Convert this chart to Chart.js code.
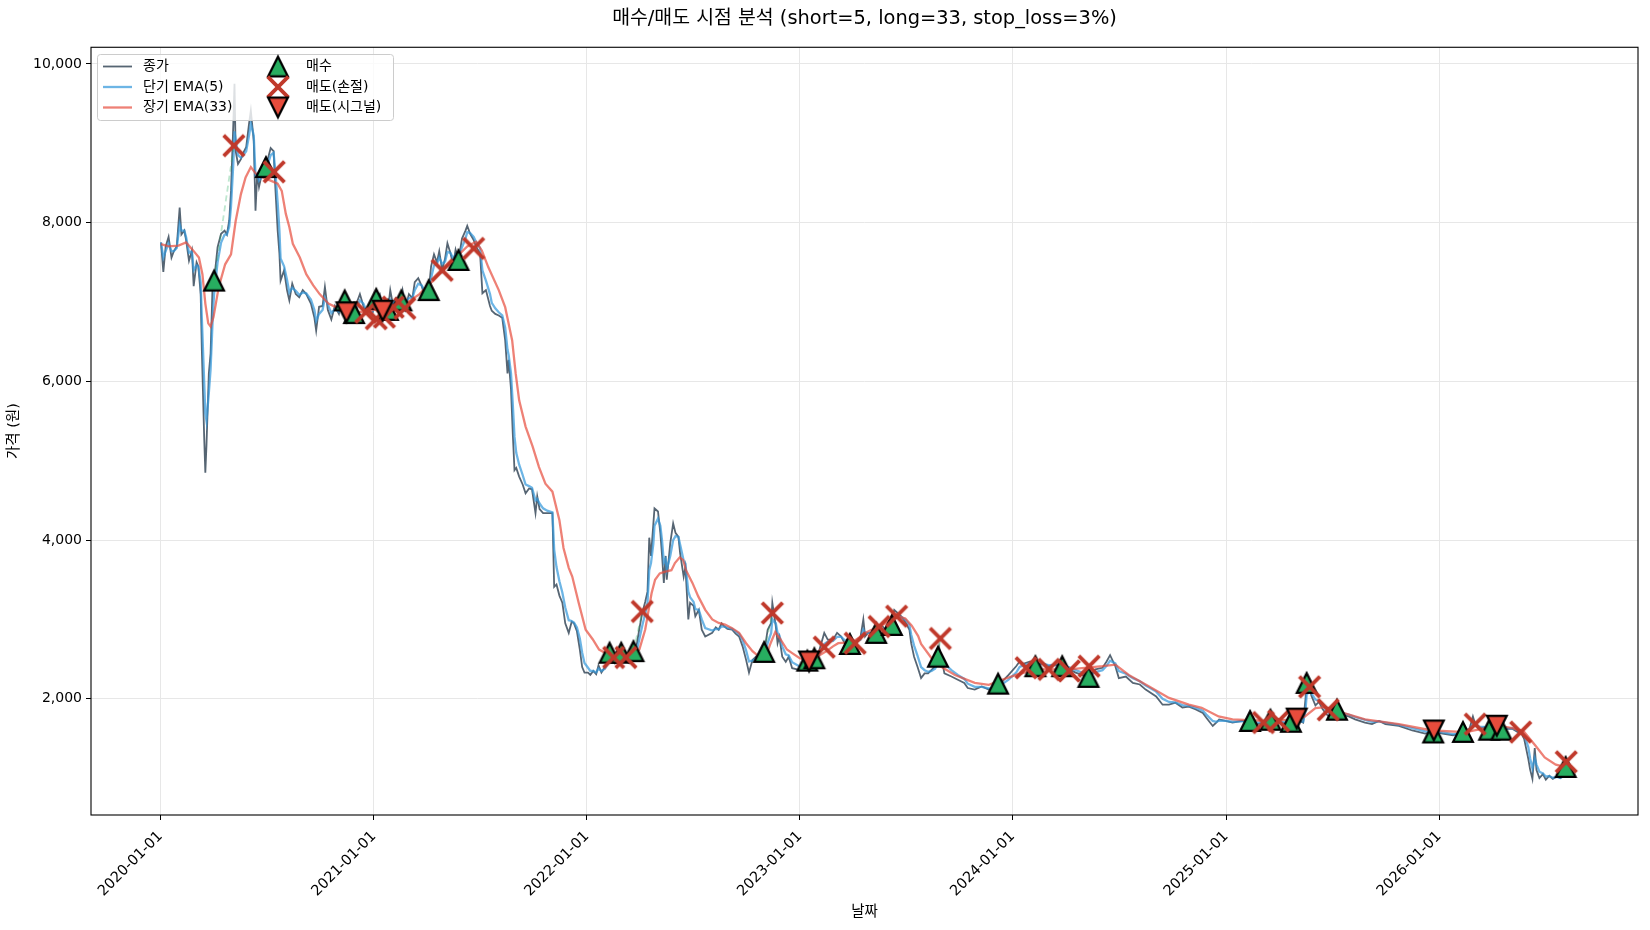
<!DOCTYPE html>
<html><head><meta charset="utf-8">
<script src="https://cdn.jsdelivr.net/npm/chart.js@4.4.1/dist/chart.umd.min.js"></script>
<style>
html,body{margin:0;padding:0;background:#fff;}
#wrap{width:1650px;height:930px;position:relative;}
</style></head><body>
<div id="wrap"><canvas id="c"></canvas></div>
<script>
const FONT = '"DejaVu Sans", "Noto Sans CJK KR", sans-serif';
const titleText = '매수/매도 시점 분석 (short=5, long=33, stop_loss=3%)';
const xAxisTitle = '날짜';
const yAxisTitle = '가격 (원)';
const xTickYears = [2020, 2021, 2022, 2023, 2024, 2025, 2026];
const yTickValues = [2000, 4000, 6000, 8000, 10000];
const legendLabels = ['종가', '단기 EMA(5)', '장기 EMA(33)', '매수', '매도(손절)', '매도(시그널)'];

const priceDates = [
'2020-01-02','2020-01-06','2020-01-10','2020-01-15','2020-01-20','2020-01-24','2020-01-29',
'2020-02-03','2020-02-06','2020-02-11','2020-02-14','2020-02-19','2020-02-24','2020-02-27',
'2020-03-03','2020-03-06','2020-03-10','2020-03-12','2020-03-16','2020-03-18','2020-03-20','2020-03-24','2020-03-27','2020-03-31',
'2020-04-02','2020-04-08','2020-04-14','2020-04-20','2020-04-24','2020-04-28',
'2020-05-01','2020-05-05','2020-05-07','2020-05-09','2020-05-13','2020-05-18','2020-05-22','2020-05-27',
'2020-06-01','2020-06-04','2020-06-09','2020-06-12','2020-06-15','2020-06-18','2020-06-23','2020-06-30',
'2020-07-03','2020-07-08','2020-07-13','2020-07-16','2020-07-20','2020-07-23','2020-07-25','2020-07-31',
'2020-08-05','2020-08-09','2020-08-14','2020-08-20','2020-08-26',
'2020-09-01','2020-09-07','2020-09-15','2020-09-21','2020-09-24','2020-09-29',
'2020-10-05','2020-10-09','2020-10-14','2020-10-20','2020-10-26',
'2020-11-02','2020-11-06','2020-11-12','2020-11-16','2020-11-20','2020-11-25','2020-11-28',
'2020-12-03','2020-12-08','2020-12-14','2020-12-18','2020-12-23','2020-12-29',
'2021-01-05','2021-01-11','2021-01-15','2021-01-20','2021-01-25','2021-01-29',
'2021-02-03','2021-02-08','2021-02-15','2021-02-19','2021-02-24',
'2021-03-02','2021-03-08','2021-03-12','2021-03-18','2021-03-24','2021-03-30',
'2021-04-05','2021-04-09','2021-04-14','2021-04-19','2021-04-23','2021-04-28',
'2021-05-03','2021-05-07','2021-05-12','2021-05-17','2021-05-21','2021-05-26',
'2021-06-01','2021-06-07','2021-06-10','2021-06-15','2021-06-21','2021-06-25',
'2021-07-02','2021-07-06','2021-07-12','2021-07-19','2021-07-22','2021-07-28',
'2021-08-03','2021-08-09','2021-08-14','2021-08-18','2021-08-20','2021-08-24','2021-08-27','2021-08-30',
'2021-09-02','2021-09-07','2021-09-13','2021-09-18','2021-09-24','2021-09-29',
'2021-10-05','2021-10-08','2021-10-12','2021-10-18','2021-10-25',
'2021-11-03','2021-11-06','2021-11-10','2021-11-15','2021-11-20','2021-11-25',
'2021-12-01','2021-12-06','2021-12-10','2021-12-15','2021-12-20','2021-12-24','2021-12-28',
'2022-01-03','2022-01-07','2022-01-12','2022-01-17','2022-01-21','2022-01-26',
'2022-02-01','2022-02-09','2022-02-14','2022-02-18','2022-02-24',
'2022-03-01','2022-03-08','2022-03-14','2022-03-22','2022-03-28',
'2022-04-01','2022-04-06','2022-04-11','2022-04-15','2022-04-18','2022-04-21','2022-04-25','2022-04-27',
'2022-05-03','2022-05-07','2022-05-10','2022-05-13','2022-05-16','2022-05-18','2022-05-24','2022-05-29',
'2022-06-02','2022-06-07','2022-06-10','2022-06-16','2022-06-19','2022-06-24','2022-06-27',
'2022-07-03','2022-07-06','2022-07-12','2022-07-17','2022-07-23',
'2022-08-04','2022-08-10','2022-08-15','2022-08-20','2022-08-25','2022-08-30',
'2022-09-07','2022-09-13','2022-09-19','2022-09-25',
'2022-10-01','2022-10-06','2022-10-12','2022-10-18','2022-10-25',
'2022-11-01','2022-11-07','2022-11-13','2022-11-15','2022-11-21','2022-11-24','2022-11-27',
'2022-12-02','2022-12-08','2022-12-13','2022-12-19','2022-12-31',
'2023-01-06','2023-01-12','2023-01-17','2023-01-22',
'2023-02-03','2023-02-12','2023-02-18','2023-02-27',
'2023-03-06','2023-03-13','2023-03-19','2023-03-26',
'2023-04-01','2023-04-07','2023-04-15','2023-04-20','2023-04-23','2023-04-28',
'2023-05-06','2023-05-12','2023-05-21','2023-05-28',
'2023-06-06','2023-06-12','2023-06-24',
'2023-07-02','2023-07-08','2023-07-11','2023-07-16','2023-07-22','2023-07-28',
'2023-08-03','2023-08-09','2023-08-15','2023-08-21','2023-08-26','2023-08-28',
'2023-09-06','2023-09-18','2023-09-29',
'2023-10-10','2023-10-16','2023-10-28',
'2023-11-09','2023-11-21',
'2023-12-02','2023-12-09','2023-12-14','2023-12-25',
'2024-01-07','2024-01-13','2024-01-19','2024-01-31',
'2024-02-10','2024-02-22',
'2024-03-03','2024-03-14','2024-03-26',
'2024-04-07','2024-04-18','2024-04-29',
'2024-05-11','2024-05-22',
'2024-06-03','2024-06-10','2024-06-16','2024-06-25',
'2024-07-01','2024-07-13','2024-07-25',
'2024-08-06','2024-08-16',
'2024-09-03','2024-09-14','2024-09-25',
'2024-10-06','2024-10-18','2024-10-29',
'2024-11-10','2024-11-22','2024-11-28',
'2024-12-09','2024-12-15','2024-12-20','2024-12-31',
'2025-01-12','2025-01-28',
'2025-02-12','2025-02-24',
'2025-03-06','2025-03-19',
'2025-04-01','2025-04-12','2025-04-21',
'2025-05-02','2025-05-13','2025-05-17','2025-05-19','2025-05-24','2025-05-27',
'2025-06-03','2025-06-09','2025-06-15','2025-06-20','2025-06-26',
'2025-07-07','2025-07-12','2025-07-18','2025-07-30',
'2025-08-10','2025-08-27',
'2025-09-08','2025-09-20',
'2025-10-01','2025-10-24',
'2025-11-16',
'2025-12-08','2025-12-22',
'2026-01-07','2026-01-25',
'2026-02-11','2026-02-22','2026-02-28',
'2026-03-04','2026-03-10','2026-03-19','2026-03-28',
'2026-04-10','2026-04-17',
'2026-05-07','2026-05-16','2026-05-21','2026-05-27',
'2026-06-03','2026-06-06','2026-06-10','2026-06-14','2026-06-17','2026-06-22','2026-06-28',
'2026-07-03','2026-07-09','2026-07-15','2026-07-22','2026-07-28',
'2026-08-03','2026-08-07','2026-08-13'
];

const closePrices = [
7750,7380,7700,7820,7560,7640,7700,
8190,7850,7900,7780,7520,7650,7200,
7500,7450,7100,6400,5300,4850,5200,6100,6350,7360,
7270,7690,7860,7900,7850,8030,
8400,9250,9750,8900,8740,8800,8880,8950,
9250,9410,9030,8150,8620,8450,8620,8700,
8800,8940,8900,8440,7900,7610,7270,7400,
7150,7020,7230,7100,7060,
7150,7100,6980,6800,6640,6940,
6950,7190,6900,6780,6950,
6850,7000,7020,6880,6950,6820,6860,
7000,7100,6950,6860,6900,6850,
7040,7100,6950,6850,6900,7150,
6950,7050,7020,7150,6920,
7100,7050,7250,7300,7200,7050,
7150,7450,7600,7500,7640,7400,
7550,7740,7620,7470,7660,7530,
7800,7900,7960,7860,7780,7700,
7610,7110,7150,6950,6890,6850,
6830,6800,6520,6100,6270,5900,5350,4880,
4910,4800,4700,4590,4650,4640,
4340,4550,4390,4340,4340,
4340,3410,3440,3300,3210,2950,
2830,2970,2950,2850,2620,2400,2330,
2330,2300,2350,2310,2420,2330,
2400,2580,2500,2450,2550,
2580,2480,2450,2600,2700,
2880,3080,3220,3350,4030,3800,4200,4400,
4360,4090,3800,3460,3800,3500,3960,4210,
4090,4040,3830,3540,3660,3000,3210,
3170,3040,3120,2870,2785,
2830,2900,2870,2950,2910,2880,
2870,2820,2785,2660,
2490,2330,2490,2530,2500,
2580,2870,2955,3210,2910,2700,2780,
2530,2465,2530,2385,2365,
2380,2480,2470,2520,
2600,2830,2745,2745,
2830,2785,2700,2720,
2745,2700,2770,3000,2785,2830,
2830,2826,2930,2870,
2960,3120,3040,
2955,2870,2700,2530,2400,2260,
2320,2320,2365,2410,2530,2650,
2320,2280,2240,
2200,2135,2115,
2155,2115,
2130,2175,2215,2300,
2410,2470,2440,2470,
2420,2450,
2410,2430,2410,
2370,2330,2300,
2280,2370,
2390,2470,2550,2410,
2260,2280,2200,
2180,2115,
2030,1925,1925,
1950,1890,1900,
1865,1820,1760,
1657,1700,1740,1720,
1700,1720,
1720,1680,
1700,1740,
1720,1680,1700,
1740,1700,2000,2250,2150,2040,
1917,1960,1875,1820,1777,
1840,1860,1800,1777,
1740,1700,
1680,1720,
1680,1657,
1600,
1560,1590,
1560,1540,
1580,1620,1777,
1680,1620,1640,1620,
1663,1620,
1620,1580,1580,1490,
1240,1110,990,1380,1100,1000,1050,
980,1030,990,1020,1000,
1040,1140,1073
];

const shortEma = [
7750,7560,7640,7740,7640,7640,7680,
7980,7900,7900,7820,7620,7640,7400,
7460,7450,7250,6800,6000,5600,5500,5850,6150,6850,
7100,7500,7750,7850,7850,7950,
8200,8750,9150,9050,8850,8820,8850,8900,
9100,9250,9100,8600,8610,8530,8580,8650,
8730,8850,8880,8650,8250,7900,7550,7450,
7280,7120,7180,7140,7090,
7120,7110,7030,6900,6760,6850,
6900,7050,6970,6860,6910,
6880,6950,6990,6930,6940,6870,6860,
6930,7020,6980,6910,6900,6870,
6960,7050,6990,6910,6900,7030,
6990,7020,7020,7090,7000,
7050,7050,7150,7230,7210,7120,
7140,7300,7460,7480,7560,7480,
7510,7630,7620,7550,7600,7570,
7690,7800,7880,7870,7820,7760,
7680,7400,7270,7100,6990,6920,
6870,6830,6680,6400,6330,6100,5720,5300,
5100,4950,4820,4700,4680,4660,
4500,4520,4460,4400,4370,
4350,3880,3660,3480,3340,3150,
2990,2980,2960,2900,2760,2580,2450,
2390,2350,2350,2330,2380,2350,
2380,2480,2490,2470,2510,
2550,2510,2480,2540,2620,
2750,2920,3070,3210,3620,3710,3950,4180,
4270,4180,3990,3720,3760,3630,3800,4000,
4050,4040,3940,3740,3700,3350,3280,
3220,3130,3120,3000,2890,
2860,2880,2875,2910,2910,2895,
2880,2850,2815,2740,
2610,2470,2480,2505,2500,
2540,2700,2830,3000,2950,2830,2800,
2660,2560,2545,2460,2410,
2395,2440,2455,2490,
2545,2690,2720,2730,
2780,2780,2740,2730,
2740,2720,2745,2870,2830,2830,
2830,2828,2880,2875,
2920,3020,3030,
2990,2930,2810,2670,2540,2400,
2360,2340,2350,2380,2450,2550,
2440,2360,2300,
2250,2190,2150,
2150,2130,
2130,2150,2185,2240,
2330,2400,2420,2445,
2430,2440,
2425,2428,2420,
2395,2360,2330,
2300,2335,
2360,2415,2480,2445,
2350,2315,2260,
2220,2165,
2090,2000,1960,
1955,1920,1910,
1885,1850,1800,
1720,1710,1725,1722,
1710,1715,
1718,1700,
1700,1720,
1720,1700,1700,
1720,1710,1850,2050,2100,2070,
1990,1975,1925,1870,1820,
1830,1845,1820,1800,
1770,1735,
1710,1715,
1700,1670,
1630,
1590,1590,
1575,1555,
1565,1595,1690,
1685,1650,1645,1630,
1650,1635,
1625,1600,1590,1540,
1390,1250,1120,1250,1170,1080,1060,
1020,1025,1005,1015,1005,
1025,1080,1075
];

const longEmaDates = [
'2020-01-02','2020-01-15','2020-02-01','2020-02-14','2020-02-25','2020-03-07','2020-03-13','2020-03-18','2020-03-23','2020-03-27',
'2020-04-01','2020-04-10','2020-04-21','2020-05-01','2020-05-09','2020-05-18','2020-05-26','2020-06-04','2020-06-13','2020-06-24',
'2020-07-08','2020-07-20','2020-07-27','2020-08-03','2020-08-09','2020-08-15','2020-08-27','2020-09-07','2020-09-19','2020-09-30',
'2020-10-15','2020-11-01','2020-11-15','2020-12-01','2020-12-15','2021-01-01','2021-01-20','2021-02-10','2021-03-01','2021-03-20',
'2021-04-10','2021-04-30','2021-05-20','2021-06-10','2021-06-25','2021-07-05','2021-07-16','2021-08-03','2021-08-14','2021-08-20',
'2021-08-26','2021-09-01','2021-09-07','2021-09-18','2021-09-30','2021-10-11','2021-10-22','2021-11-03','2021-11-15','2021-11-22',
'2021-12-01','2021-12-07','2021-12-18','2021-12-30','2022-01-11','2022-01-22','2022-02-03','2022-02-15','2022-02-26','2022-03-07',
'2022-03-19','2022-04-01','2022-04-11','2022-04-17','2022-04-22','2022-04-28','2022-05-06','2022-05-14','2022-05-26','2022-06-01',
'2022-06-09','2022-06-15','2022-06-20','2022-07-01','2022-07-11','2022-07-23','2022-08-04','2022-08-15','2022-08-26','2022-09-07',
'2022-09-19','2022-10-01','2022-10-12','2022-10-23','2022-11-04','2022-11-12','2022-11-20','2022-11-28','2022-12-10','2022-12-19',
'2023-01-01','2023-01-12','2023-01-23','2023-02-04','2023-02-16','2023-02-27','2023-03-08','2023-03-31','2023-04-12','2023-04-23',
'2023-05-04','2023-05-15','2023-05-27','2023-06-08','2023-06-19','2023-07-01','2023-07-12','2023-07-23','2023-07-28','2023-08-21',
'2023-09-24','2023-10-28','2023-11-21','2023-12-14','2024-01-07','2024-02-10','2024-04-07','2024-06-03','2024-06-25','2024-07-18',
'2024-08-22','2024-09-25','2024-10-29','2024-11-20','2024-12-19','2025-01-12','2025-03-09','2025-05-04','2025-05-16','2025-06-03',
'2025-06-20','2025-07-12','2025-08-27','2025-10-24','2025-12-20','2026-02-16','2026-04-12','2026-05-07','2026-05-27','2026-06-15',
'2026-07-01','2026-07-20','2026-08-13'
];
const longEma = [
7730,7700,7710,7750,7660,7560,7350,6980,6730,6690,
6810,7190,7475,7600,8020,8360,8570,8700,8615,8570,
8530,8490,8400,8110,7945,7733,7560,7350,7210,7100,
6980,6920,6880,6870,6880,6900,6910,6960,7000,7100,
7250,7400,7550,7700,7760,7650,7440,7150,6935,6725,
6516,6100,5760,5430,5180,4920,4710,4610,4250,3900,
3650,3540,3210,2870,2750,2620,2570,2550,2550,2510,
2530,2620,2870,3120,3330,3500,3580,3600,3620,3710,
3780,3750,3620,3460,3290,3120,3000,2955,2935,2890,
2830,2700,2600,2530,2530,2700,2840,2760,2620,2575,
2510,2490,2510,2550,2600,2660,2700,2710,2765,2830,
2870,2890,2955,3000,3040,3010,2920,2790,2690,2450,
2300,2200,2175,2240,2300,2370,2370,2410,2430,2300,
2155,2010,1925,1886,1777,1740,1720,1740,1777,1882,
1895,1840,1740,1680,1600,1580,1660,1630,1580,1410,
1260,1170,1126
];

const buyDates = ['2020-04-02','2020-06-30','2020-11-12','2020-11-28','2021-01-05','2021-01-25','2021-02-17','2021-04-05','2021-05-26',
'2022-02-09','2022-03-01','2022-03-22','2022-11-01','2023-01-14','2023-01-26','2023-03-28','2023-05-12','2023-06-08','2023-08-26',
'2023-12-07','2024-02-09','2024-03-26','2024-05-10','2025-02-11','2025-03-18','2025-04-22','2025-05-19','2025-07-10','2025-12-22',
'2026-02-11','2026-03-28','2026-04-18','2026-08-06'];
const buyPrices = [7270,8700,7020,6860,7040,6900,7020,7150,7530,
2580,2580,2600,2590,2480,2510,2690,2830,2930,2530,
2190,2410,2410,2275,1720,1735,1710,2200,1862,1575,
1582,1610,1610,1140];

const stopDates = ['2020-05-06','2020-07-14','2020-12-18','2021-01-05','2021-01-19','2021-02-03','2021-02-23','2021-04-28','2021-06-21',
'2022-02-16','2022-03-09','2022-04-06','2022-11-15','2023-02-12','2023-04-06','2023-05-17','2023-06-16','2023-08-30',
'2024-01-24','2024-03-03','2024-04-07','2024-05-11','2025-03-06','2025-04-01','2025-05-24','2025-06-25',
'2026-03-04','2026-05-21','2026-08-07'];
const stopPrices = [8970,8640,6870,6790,6810,6935,6920,7400,7675,
2520,2520,3100,3080,2650,2700,2910,3040,2760,
2390,2370,2350,2410,1700,1720,2150,1860,
1680,1580,1205];

const signalDates = ['2020-11-15','2021-01-16','2023-01-17','2025-05-02','2025-12-23','2026-04-10'];
const signalPrices = [6870,6890,2470,1750,1600,1660];

const winEntryDates = ['2020-04-02','2022-03-22','2022-11-01','2023-08-26'];
const winEntryPrices = [7270,2600,2590,2530];
const winExitDates = ['2020-05-06','2022-04-06','2022-11-15','2023-08-30'];
const winExitPrices = [8970,3100,3080,2760];

// ---------- helpers ----------
const toT = s => Date.parse(s + 'T00:00:00Z');
const pts = (ds, vs) => ds.map((d, i) => ({x: toT(d), y: vs[i]}));
const tradeSegs = [];
winEntryDates.forEach((d, i) => {
  tradeSegs.push({x: toT(d), y: winEntryPrices[i]});
  tradeSegs.push({x: toT(winExitDates[i]), y: winExitPrices[i]});
  tradeSegs.push({x: toT(winExitDates[i]) + 86400000, y: null});
});

const COL_CLOSE = 'rgba(44,62,80,0.8)';
const COL_SHORT = 'rgba(52,152,219,0.72)';
const COL_LONG = 'rgba(231,76,60,0.7)';

function mkTri(up, fill) {
  const s = 26, c = document.createElement('canvas');
  c.width = s; c.height = s;
  const g = c.getContext('2d'), cx = 13, cy = 13, h = 9.8;
  g.beginPath();
  if (up) { g.moveTo(cx, cy - h); g.lineTo(cx - h, cy + h); g.lineTo(cx + h, cy + h); }
  else { g.moveTo(cx, cy + h); g.lineTo(cx - h, cy - h); g.lineTo(cx + h, cy - h); }
  g.closePath();
  g.fillStyle = fill; g.fill();
  g.lineWidth = 2.3; g.lineJoin = 'miter'; g.strokeStyle = '#000'; g.stroke();
  return c;
}
function mkX() {
  const s = 26, c = document.createElement('canvas');
  c.width = s; c.height = s;
  const g = c.getContext('2d'), cx = 13, cy = 13, h = 10.3;
  g.strokeStyle = '#c0392b'; g.lineWidth = 3.8; g.lineCap = 'butt';
  g.beginPath();
  g.moveTo(cx - h, cy - h); g.lineTo(cx + h, cy + h);
  g.moveTo(cx + h, cy - h); g.lineTo(cx - h, cy + h);
  g.stroke();
  return c;
}
const buyImg = mkTri(true, '#27ae60');
const sigImg = mkTri(false, '#e74c3c');
const stopImg = mkX();

const overlay = {
  id: 'overlay',
  afterDatasetsDraw(chart) {
    const {ctx, chartArea: a} = chart;
    ctx.save();
    ctx.strokeStyle = '#000'; ctx.lineWidth = 1.1;
    ctx.strokeRect(a.left, a.top, a.right - a.left, a.bottom - a.top);
    ctx.restore();
  },
  afterDraw(chart) {
    const ctx = chart.ctx;
    ctx.save();
    const bx = 97.5, by = 54.5, bw = 296, bh = 66, r = 3;
    ctx.beginPath();
    ctx.moveTo(bx + r, by); ctx.lineTo(bx + bw - r, by); ctx.quadraticCurveTo(bx + bw, by, bx + bw, by + r);
    ctx.lineTo(bx + bw, by + bh - r); ctx.quadraticCurveTo(bx + bw, by + bh, bx + bw - r, by + bh);
    ctx.lineTo(bx + r, by + bh); ctx.quadraticCurveTo(bx, by + bh, bx, by + bh - r);
    ctx.lineTo(bx, by + r); ctx.quadraticCurveTo(bx, by, bx + r, by);
    ctx.closePath();
    ctx.fillStyle = 'rgba(255,255,255,0.8)'; ctx.fill();
    ctx.strokeStyle = '#cccccc'; ctx.lineWidth = 1; ctx.stroke();
    const rows = [66.5, 87, 107.5];
    const lineCols = [COL_CLOSE, COL_SHORT, COL_LONG];
    const lineW = [1.8, 2.3, 2.3];
    ctx.font = '14px ' + FONT; ctx.fillStyle = '#000'; ctx.textBaseline = 'middle'; ctx.textAlign = 'left';
    for (let i = 0; i < 3; i++) {
      ctx.beginPath(); ctx.strokeStyle = lineCols[i]; ctx.lineWidth = lineW[i];
      ctx.moveTo(103, rows[i]); ctx.lineTo(132, rows[i]); ctx.stroke();
      ctx.fillText(legendLabels[i], 143, rows[i]);
    }
    const imgs = [buyImg, stopImg, sigImg];
    for (let i = 0; i < 3; i++) {
      ctx.drawImage(imgs[i], 278 - 13, rows[i] - 13);
      ctx.fillText(legendLabels[3 + i], 306, rows[i]);
    }
    ctx.restore();
  }
};

new Chart(document.getElementById('c'), {
  type: 'line',
  data: {
    datasets: [
      {label: legendLabels[5], data: pts(signalDates, signalPrices), showLine: false, pointStyle: sigImg, pointRadius: 10, order: 1},
      {label: legendLabels[4], data: pts(stopDates, stopPrices), showLine: false, pointStyle: stopImg, pointRadius: 10, order: 2},
      {label: legendLabels[3], data: pts(buyDates, buyPrices), showLine: false, pointStyle: buyImg, pointRadius: 10, order: 3},
      {label: 'trades', data: tradeSegs, borderColor: 'rgba(39,174,96,0.3)', borderWidth: 1.8, borderDash: [6, 4], pointRadius: 0, spanGaps: false, order: 4},
      {label: legendLabels[2], data: pts(longEmaDates, longEma), borderColor: COL_LONG, borderWidth: 2.3, pointRadius: 0, order: 5},
      {label: legendLabels[1], data: pts(priceDates, shortEma), borderColor: COL_SHORT, borderWidth: 2.3, pointRadius: 0, order: 6},
      {label: legendLabels[0], data: pts(priceDates, closePrices), borderColor: COL_CLOSE, borderWidth: 1.8, pointRadius: 0, order: 7}
    ]
  },
  options: {
    responsive: true, maintainAspectRatio: false, animation: false, events: [],
    layout: {padding: {left: 0, right: 12, top: 0, bottom: 0}},
    plugins: {
      legend: {display: false}, tooltip: {enabled: false},
      title: {display: true, fullSize: false, text: titleText, color: '#000', font: {family: FONT, size: 19.4, weight: 'normal'}, padding: {top: 7.3, bottom: 16.7}}
    },
    scales: {
      x: {
        type: 'linear', min: toT('2019-09-04'), max: toT('2026-12-08'),
        afterBuildTicks: ax => { ax.ticks = xTickYears.map(y => ({value: Date.UTC(y, 0, 1)})); },
        afterFit: ax => { ax.height = 115; },
        ticks: {autoSkip: false, minRotation: 45, maxRotation: 45, color: '#000', padding: 8, labelOffset: 0,
          font: {family: FONT, size: 14.5},
          callback: v => new Date(v).toISOString().slice(0, 10)},
        grid: {color: '#e7e7e7', lineWidth: 1, tickColor: '#000', tickLength: 5, tickWidth: 1},
        border: {display: false},
        title: {display: true, text: xAxisTitle, color: '#000', font: {family: FONT, size: 14.5}, padding: {top: 0, bottom: 9}}
      },
      y: {
        type: 'linear', min: 535, max: 10210,
        afterBuildTicks: ax => { ax.ticks = yTickValues.map(v => ({value: v})); },
        afterFit: ax => { ax.width = 91; },
        ticks: {color: '#000', padding: 4, font: {family: FONT, size: 14},
          callback: v => Number(v).toLocaleString('en-US')},
        grid: {color: '#e7e7e7', lineWidth: 1, tickColor: '#000', tickLength: 5, tickWidth: 1},
        border: {display: false},
        title: {display: true, text: yAxisTitle, color: '#000', font: {family: FONT, size: 14.5}, padding: {top: 6, bottom: 0}}
      }
    }
  },
  plugins: [overlay]
});
</script>
</body></html>
